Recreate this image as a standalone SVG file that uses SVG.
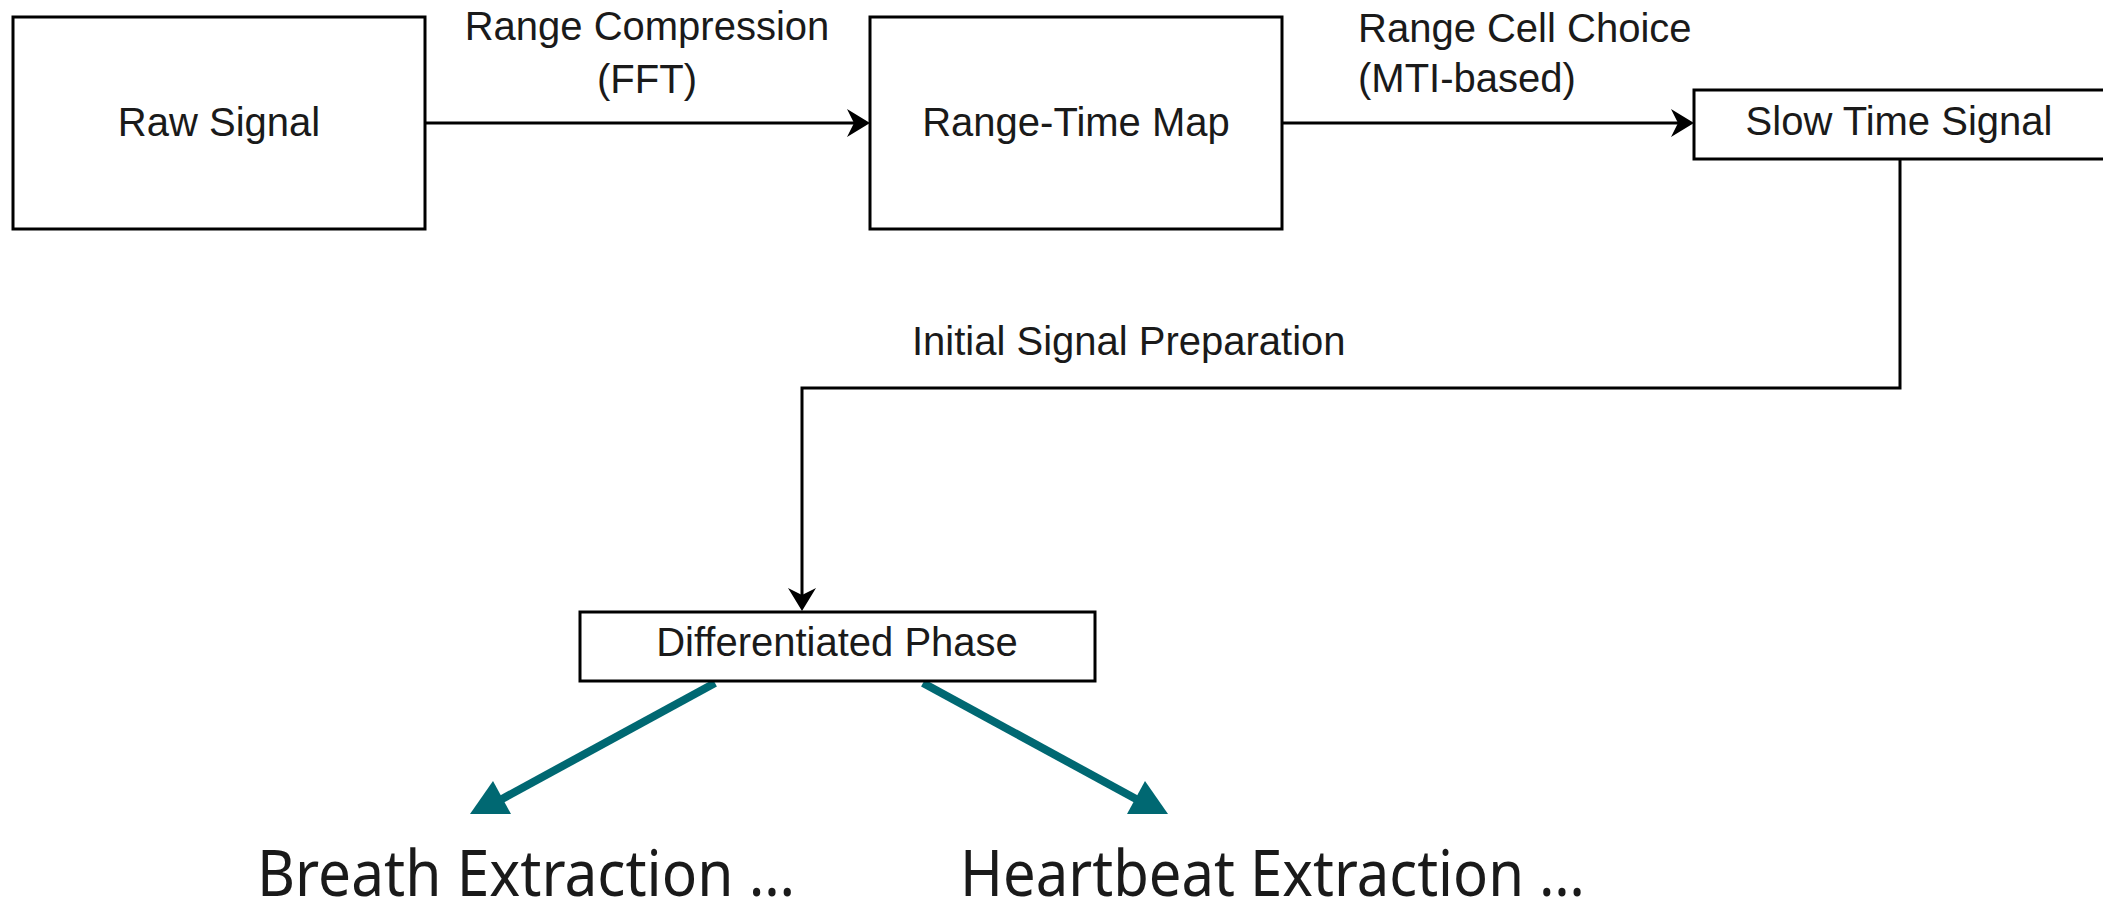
<svg xmlns="http://www.w3.org/2000/svg" width="2103" height="913" viewBox="0 0 2103 913">
<style>
.box{fill:#fff;stroke:#000;stroke-width:3}
.t{font-family:"Liberation Sans",Arial,sans-serif;font-size:40px;fill:#1a1a1a}
.c{text-anchor:middle}
.ln{fill:none;stroke:#000;stroke-width:3}
.teal{fill:none;stroke:#006872;stroke-width:8}
.big{font-family:"Noto Sans","Open Sans",sans-serif;font-size:64px;fill:#1a1a1a}
</style>
<defs>
<marker id="ah" viewBox="-16 -16 28 32" refX="0" refY="0" markerWidth="28" markerHeight="32" markerUnits="userSpaceOnUse" orient="auto">
<path d="M10,0 L-13,-14 L-6,0 L-13,14 Z" fill="#000"/>
</marker>
</defs>
<rect width="2103" height="913" fill="#fff"/>
<g id="connectors">
<line class="ln" x1="425" y1="123" x2="860" y2="123" marker-end="url(#ah)"/>
<line class="ln" x1="1282" y1="123" x2="1684" y2="123" marker-end="url(#ah)"/>
<polyline class="ln" points="1900,159 1900,388 802,388 802,601" marker-end="url(#ah)"/>
<line class="teal" x1="715" y1="683" x2="502" y2="799"/>
<polygon points="493,781 470,814 511,814" fill="#006872"/>
<line class="teal" x1="923" y1="683" x2="1136" y2="799"/>
<polygon points="1145,781 1168,814 1127,814" fill="#006872"/>
<text class="t c" x="647" y="40">Range Compression</text>
<text class="t c" x="647" y="93">(FFT)</text>
<text class="t" x="1358" y="42">Range Cell Choice</text>
<text class="t" x="1358" y="92">(MTI-based)</text>
<text class="t" x="912" y="355">Initial Signal Preparation</text>
</g>
<g id="raw">
<rect class="box" x="13" y="17" width="412" height="212"/>
<text class="t c" x="219" y="136">Raw Signal</text>
</g>
<g id="rtmap">
<rect class="box" x="870" y="17" width="412" height="212"/>
<text class="t c" x="1076" y="136">Range-Time Map</text>
</g>
<g id="slow">
<rect class="box" x="1694" y="90" width="420" height="69"/>
<text class="t c" x="1899" y="135">Slow Time Signal</text>
</g>
<g id="diff">
<rect class="box" x="580" y="612" width="515" height="69"/>
<text class="t c" x="837" y="656">Differentiated Phase</text>
</g>
<g id="breath">
<text class="big" x="257" y="896" textLength="538" lengthAdjust="spacingAndGlyphs">Breath Extraction …</text>
</g>
<g id="heart">
<text class="big" x="960" y="896" textLength="625" lengthAdjust="spacingAndGlyphs">Heartbeat Extraction …</text>
</g>
</svg>
